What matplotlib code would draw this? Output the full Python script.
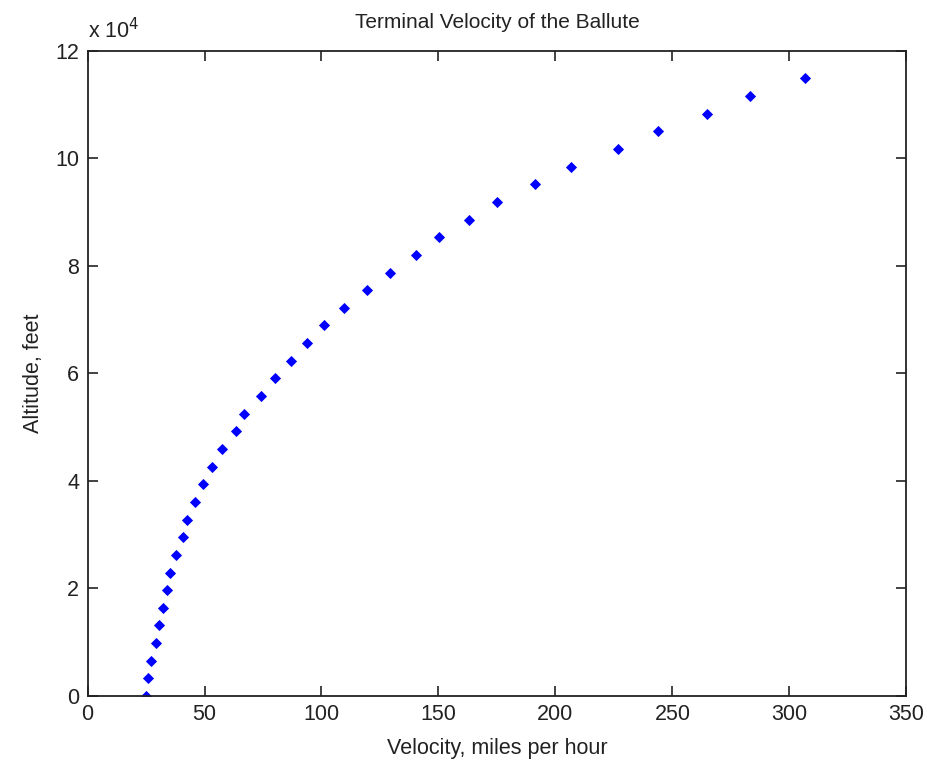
import numpy as np
import matplotlib.pyplot as plt
from matplotlib.ticker import FuncFormatter

# terminal velocity (mph) vs altitude (ft)
velocity = [25.2, 25.9, 27.2, 29.2, 30.7, 32.4, 34.0, 35.3, 37.9, 40.6,
            42.7, 46.1, 49.4, 53.4, 57.4, 63.6, 66.9, 74.2, 80.1, 86.9,
            93.6, 101.0, 109.7, 119.4, 129.2, 140.5, 150.2, 163.0, 175.1, 191.3,
            206.7, 226.8, 243.7, 264.8, 283.2, 306.8]
altitude = [0, 3281, 6562, 9843, 13123, 16404, 19685, 22966, 26247, 29528,
            32808, 36089, 39370, 42651, 45932, 49213, 52493, 55774, 59055, 62336,
            65617, 68898, 72178, 75459, 78740, 82021, 85302, 88583, 91864, 95144,
            98425, 101706, 104987, 108268, 111549, 114829]

plt.rcParams['font.family'] = ['Liberation Sans', 'DejaVu Sans']

fig = plt.figure(figsize=(9.28, 7.63), dpi=100)
ax = fig.add_axes([0.0943, 0.0878, 0.8825, 0.8458])

ax.plot(velocity, altitude, linestyle='none', marker='D', markersize=5.2,
        color='#0000ff', markeredgewidth=0.6)

ax.set_xlim(0, 350)
ax.set_ylim(0, 120000)
ax.set_xticks(np.arange(0, 351, 50))
ax.set_yticks(np.arange(0, 120001, 20000))
ax.yaxis.set_major_formatter(FuncFormatter(lambda v, p: f"{v / 1e4:g}"))

ax.tick_params(direction='in', length=7, width=1.2, top=True, right=True,
               labelsize=15.5, colors='#222222', pad=6)
for s in ax.spines.values():
    s.set_linewidth(1.3)
    s.set_color('#222222')

ax.set_title("Terminal Velocity of the Ballute", fontsize=15, pad=16, color='#222222')
ax.set_xlabel("Velocity, miles per hour", fontsize=15.5, labelpad=9, color='#222222')
ax.set_ylabel("Altitude, feet", fontsize=15.5, labelpad=8, color='#222222')
ax.text(0.0, 1.012, r"x 10$^{4}$", transform=ax.transAxes, fontsize=15.5,
        ha='left', va='bottom', color='#222222')

fig.savefig("out.png", dpi=100)
